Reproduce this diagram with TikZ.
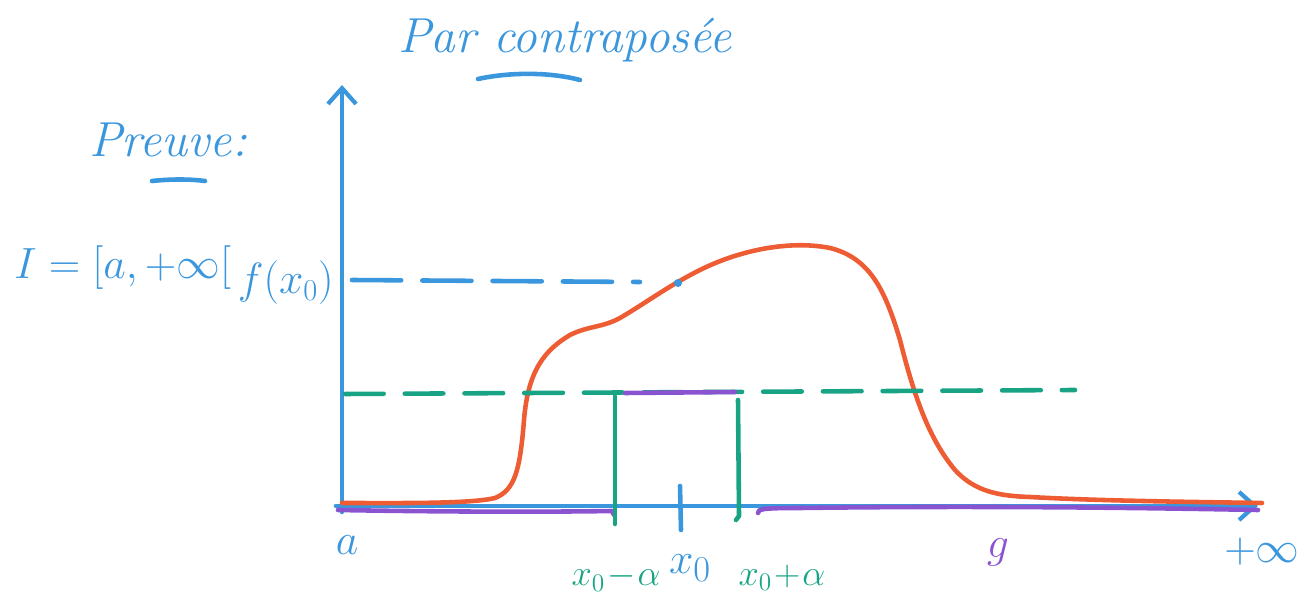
\documentclass[tikz,border=0pt]{standalone}
\usetikzlibrary{arrows.meta}
\definecolor{hblue}{RGB}{58,150,221}
\definecolor{hred}{RGB}{238,92,52}
\definecolor{hgreen}{RGB}{24,164,132}
\definecolor{hpurple}{RGB}{138,84,208}
\tikzset{
  pen/.style={line width=2.6pt, line cap=round, line join=round},
  axis/.style={pen, hblue, -{Straight Barb[length=9pt,width=16pt,line width=2.4pt]}},
  lbl/.style={inner sep=0pt, font=\fontsize{20}{22}\selectfont},
  midl/.style={inner sep=0pt, font=\fontsize{23}{25}\selectfont},
  bigl/.style={inner sep=0pt, font=\fontsize{28}{30}\selectfont},
  hugel/.style={inner sep=0pt, font=\fontsize{34}{36}\selectfont},
}
\begin{document}
\begin{tikzpicture}[x=0.02cm,y=-0.02cm]
\useasboundingbox (0,0) rectangle (1301,607);
% axes
\coordinate (O) at (342,506);
\coordinate (ytop) at (342,85);
\coordinate (xend) at (1258,506);
\draw[axis] (342,512) -- (ytop);
\draw[axis] (336,506) -- (xend);
% purple g on axis
\draw[pen, hpurple] (338,510) .. controls (450,512) and (550,512) .. (612,511) -- (614,515);
\draw[pen, hpurple] (758,513) .. controls (758,509) and (762,508) .. (800,508) .. controls (950,506) and (1100,507) .. (1258,510);
% orange curve
\draw[pen, hred] (342,503) .. controls (400,503) and (470,504) .. (495,498)
  .. controls (515,490) and (520,470) .. (524,420)
  .. controls (528,370) and (545,350) .. (570,335)
  .. controls (590,325) and (605,328) .. (625,315)
  .. controls (650,300) and (670,285) .. (700,270)
  .. controls (740,250) and (790,240) .. (830,248)
  .. controls (870,258) and (885,290) .. (900,340)
  .. controls (915,400) and (930,440) .. (955,470)
  .. controls (975,492) and (1000,496) .. (1030,497)
  .. controls (1100,501) and (1200,502) .. (1262,503);
% dashed lines
\draw[pen, hblue, dash pattern=on 28pt off 12pt] (352,280) -- (640,282);
\fill[hblue] (678,283) circle (4);
\draw[pen, hgreen, dash pattern=on 22pt off 12pt] (345,394) -- (1075,390);
% purple segment
\draw[pen, hpurple] (625,393) -- (735,392);
% green verticals
\draw[pen, hgreen] (615,396) -- (615,524);
\draw[pen, hgreen] (738,400) -- (739,516) -- (736,520);
% blue tick
\draw[pen, hblue] (680,486) -- (681,530);
% underlines
\draw[pen, hblue] (478,79) .. controls (510,72) and (550,72) .. (580,80);
\draw[pen, hblue] (152,181) .. controls (170,179) and (190,179) .. (205,181);
% texts
\node[bigl, text=hblue, anchor=west] (title) at (398,40) {\itshape Par contrapos\'ee};
\node[bigl, text=hblue] (preuve) at (168,140) {\itshape Preuve:};
\node[font=\fontsize{30}{32}\selectfont, inner sep=0pt, text=hblue, anchor=west] (I) at (14,268) {$I=[a,+\infty[$};
\node[midl, text=hblue, anchor=east] (fx) at (334,283) {$f(x_0)$};
\node[hugel, text=hblue] (a) at (347,545) {$a$};
\node[lbl, text=hgreen] (xm) at (616,578) {$x_0\!-\!\alpha$};
\node[bigl, text=hblue] (x0) at (690,568) {$x_0$};
\node[lbl, text=hgreen] (xp) at (782,578) {$x_0\!+\!\alpha$};
\node[hugel, text=hpurple] (g) at (998,552) {$g$};
\node[bigl, text=hblue] (inf) at (1262,552) {$+\infty$};
\end{tikzpicture}
\end{document}
